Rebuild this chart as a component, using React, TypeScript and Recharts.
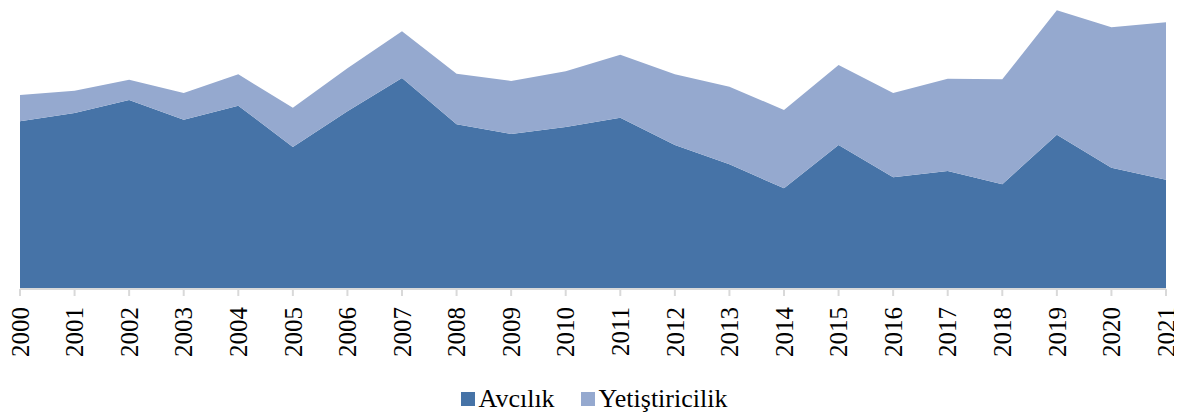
import { AreaChart, Area, XAxis, YAxis, Legend } from "recharts";

const years = ["2000", "2001", "2002", "2003", "2004", "2005", "2006", "2007", "2008", "2009", "2010",
  "2011", "2012", "2013", "2014", "2015", "2016", "2017", "2018", "2019", "2020", "2021"];
// tonnes
const avcilik = [503, 528, 567, 508, 550, 426, 533, 633, 494, 465, 486,
  514, 432, 374, 302, 432, 335, 354, 314, 463, 364, 328].map((v) => v * 1000);
const yetistiricilik = [79, 67, 61, 80, 94, 118, 129, 140, 152, 159, 167,
  189, 212, 233, 235, 240, 253, 277, 315, 373, 421, 472].map((v) => v * 1000);

const C_AVC = "#4673A7";
const C_YET = "#95A9CF";
const FONT = "'Liberation Serif', Tinos, 'Times New Roman', serif";

const data = years.map((y, i) => ({ year: y, avc: avcilik[i], yet: yetistiricilik[i] }));

const YearTick = (props: any) => {
  const { x, y, payload } = props;
  const ty = y + 9;
  return (
    <text x={x} y={ty} transform={`rotate(-90, ${x}, ${ty})`} textAnchor="end" dy="0.35em"
      fontFamily={FONT} style={{ fontFamily: FONT, fontSize: 25 }} fill="#000">
      {payload.value}
    </text>
  );
};

const items = [
  { label: "Avcılık", color: C_AVC },
  { label: "Yetiştiricilik", color: C_YET },
];

const LegendBox = () => (
  <div style={{ height: 32, display: "flex", justifyContent: "center", alignItems: "center",
    fontFamily: FONT, fontSize: 26, color: "#000", paddingLeft: 2 }}>
    {items.map((it, i) => (
      <div key={it.label} style={{ display: "flex", alignItems: "center", marginRight: i === 0 ? 26 : 0 }}>
        <span style={{ width: 14, height: 14, background: it.color, display: "inline-block", marginRight: 4 }} />
        <span style={{ fontFamily: FONT }}>{it.label}</span>
      </div>
    ))}
  </div>
);

export default function App() {
  return (
    <div style={{ fontFamily: FONT }}>
      <AreaChart width={1174} height={407} data={data} margin={{ top: 1, right: 16, left: 12, bottom: 0 }}
        style={{ fontFamily: FONT }}>
        <XAxis dataKey="year" tick={<YearTick />} height={94} interval={0}
          stroke="#d9d9d9" strokeWidth={2} tickSize={7} tickLine={{ stroke: "#d9d9d9", strokeWidth: 2 }} />
        <YAxis hide domain={[0, 840000]} />
        <Area type="linear" dataKey="avc" name="Avcılık" stackId="a" stroke="none" fill={C_AVC}
          fillOpacity={1} isAnimationActive={false} />
        <Area type="linear" dataKey="yet" name="Yetiştiricilik" stackId="a" stroke="none" fill={C_YET}
          fillOpacity={1} isAnimationActive={false} />
        <Legend verticalAlign="bottom" height={32} content={<LegendBox />} />
      </AreaChart>
    </div>
  );
}
